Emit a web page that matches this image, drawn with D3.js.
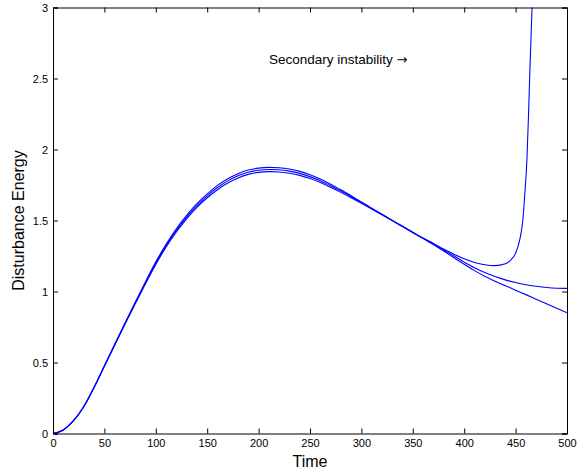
<!DOCTYPE html>
<html>
<head>
<meta charset="utf-8">
<script src="https://cdn.jsdelivr.net/npm/d3@7"></script>
<style>
  body { margin: 0; background: #fff; }
  text { font-family: "Liberation Sans", Arial, sans-serif; }
</style>
</head>
<body>
<div id="chart"></div>
<script>
// time axis shared by the two curves that stay bounded
const timeMain = d3.range(0, 501, 10);

// curve that levels off around 1.02
const energyLevel = [0, 0.025, 0.09, 0.19, 0.325, 0.475, 0.625, 0.773, 0.919, 1.062, 1.2,
  1.322, 1.43, 1.524, 1.605, 1.674, 1.732, 1.779, 1.815, 1.84, 1.854,
  1.859, 1.857, 1.848, 1.832, 1.809, 1.78, 1.745, 1.707, 1.667, 1.626,
  1.584, 1.542, 1.5, 1.458, 1.416, 1.374, 1.335, 1.292, 1.25, 1.207,
  1.167, 1.133, 1.105, 1.082, 1.063, 1.048, 1.037, 1.028, 1.023, 1.022];

// curve that keeps decaying
const energyDecay = [0, 0.025, 0.09, 0.19, 0.325, 0.473, 0.622, 0.769, 0.913, 1.055, 1.191,
  1.312, 1.419, 1.512, 1.592, 1.66, 1.717, 1.764, 1.8, 1.825, 1.839,
  1.844, 1.842, 1.833, 1.818, 1.796, 1.768, 1.734, 1.698, 1.66, 1.621,
  1.581, 1.54, 1.499, 1.457, 1.415, 1.373, 1.331, 1.285, 1.238, 1.192,
  1.147, 1.108, 1.073, 1.041, 1.009, 0.978, 0.946, 0.914, 0.882, 0.85];

// curve with the secondary instability (finer steps near the blow-up)
const timeBurst = d3.range(0, 441, 10).concat([445, 450, 454, 457, 459, 461, 462.5, 464, 466, 468]);
const energyBurst = [0, 0.025, 0.09, 0.19, 0.325, 0.477, 0.628, 0.777, 0.925, 1.069, 1.209,
  1.332, 1.441, 1.536, 1.618, 1.688, 1.747, 1.794, 1.83, 1.855, 1.869,
  1.874, 1.872, 1.863, 1.846, 1.822, 1.792, 1.756, 1.716, 1.674, 1.631,
  1.587, 1.544, 1.501, 1.459, 1.417, 1.376, 1.339, 1.3, 1.263, 1.23,
  1.204, 1.188, 1.182, 1.195,
  1.22, 1.27, 1.363, 1.5, 1.69, 1.926, 2.23, 2.58, 3.0, 3.45];

const xTicks = d3.range(0, 501, 50);
const yTicks = [0, 0.5, 1, 1.5, 2, 2.5, 3];

const width = 577, height = 469;
const margin = { left: 53, right: 10, top: 7.5, bottom: 35.5 };

const svg = d3.select("#chart")
  .append("svg")
  .attr("width", width)
  .attr("height", height);

const x = d3.scaleLinear().domain([0, 500]).range([margin.left, width - margin.right]);
const y = d3.scaleLinear().domain([0, 3]).range([height - margin.bottom, margin.top]);

svg.append("defs").append("clipPath").attr("id", "plot-clip")
  .append("rect")
  .attr("x", x(0)).attr("y", y(3))
  .attr("width", x(500) - x(0)).attr("height", y(0) - y(3));

const series = [
  { t: timeMain, v: energyLevel },
  { t: timeMain, v: energyDecay },
  { t: timeBurst, v: energyBurst }
];

const line = d3.line()
  .x(d => x(d[0]))
  .y(d => y(d[1]))
  .curve(d3.curveMonotoneX);

svg.append("g")
  .attr("clip-path", "url(#plot-clip)")
  .selectAll("path")
  .data(series)
  .enter()
  .append("path")
  .attr("d", s => line(s.t.map((t, i) => [t, s.v[i]])))
  .attr("fill", "none")
  .attr("stroke", "#0000ff")
  .attr("stroke-width", 1.1);

// axes, MATLAB style: ticks inside on all four sides
const tickLen = 5;
const axisFont = "11px";

const xAxis = svg.append("g")
  .attr("transform", `translate(0,${y(0)})`)
  .call(d3.axisBottom(x).tickValues(xTicks).tickSize(-tickLen).tickPadding(6));
const xAxisTop = svg.append("g")
  .attr("transform", `translate(0,${y(3)})`)
  .call(d3.axisTop(x).tickValues(xTicks).tickSize(-tickLen).tickFormat(""));
const yAxis = svg.append("g")
  .attr("transform", `translate(${x(0)},0)`)
  .call(d3.axisLeft(y).tickValues(yTicks).tickSize(-tickLen).tickPadding(5).tickFormat(d3.format("")));
const yAxisRight = svg.append("g")
  .attr("transform", `translate(${x(500)},0)`)
  .call(d3.axisRight(y).tickValues(yTicks).tickSize(-tickLen).tickFormat(""));

[xAxis, xAxisTop, yAxis, yAxisRight].forEach(a => {
  a.select(".domain").attr("stroke", "#000").attr("stroke-width", 1);
  a.selectAll(".tick line").attr("stroke", "#000");
  a.selectAll("text")
    .attr("fill", "#000")
    .style("font-size", axisFont)
    .style("font-family", "'Liberation Sans', Arial, sans-serif");
});

// axis labels
svg.append("text")
  .attr("x", (x(0) + x(500)) / 2)
  .attr("y", 467)
  .attr("text-anchor", "middle")
  .style("font-size", "16px")
  .text("Time");

svg.append("text")
  .attr("transform", `translate(24,${(y(0) + y(3)) / 2}) rotate(-90)`)
  .attr("text-anchor", "middle")
  .style("font-size", "16px")
  .text("Disturbance Energy");

// annotation
const note = svg.append("text")
  .attr("x", x(210))
  .attr("y", y(2.6))
  .attr("fill", "#000")
  .style("font-size", "13.5px");
note.append("tspan").text("Secondary instability ");
note.append("tspan")
  .style("font-family", "'DejaVu Sans', sans-serif")
  .style("font-size", "13px")
  .text("\u2192");
</script>
</body>
</html>
